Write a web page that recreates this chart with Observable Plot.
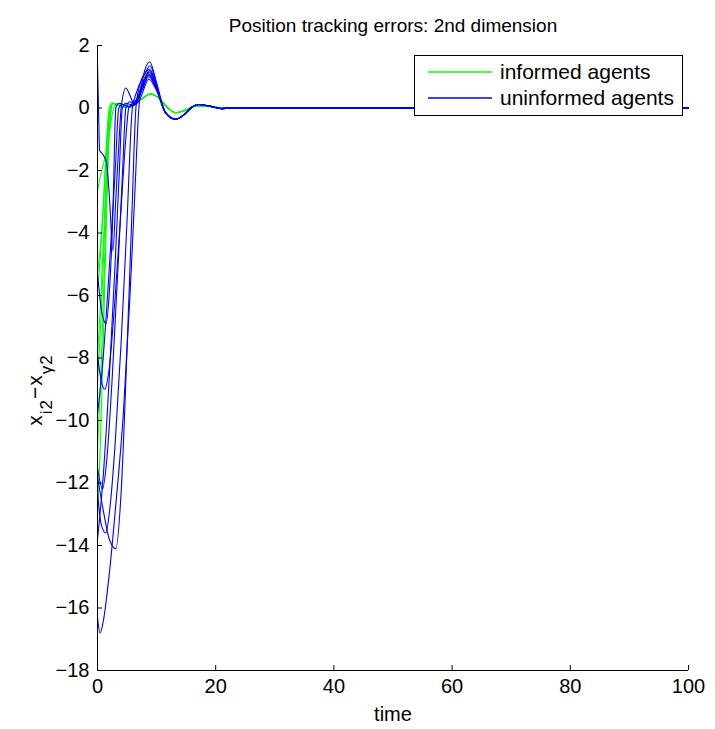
<!DOCTYPE html>
<html><head><meta charset="utf-8">
<script src="https://cdn.jsdelivr.net/npm/d3@7"></script>
<script src="https://cdn.jsdelivr.net/npm/@observablehq/plot@0.6"></script>
<style>
body{margin:0;background:#fff}
svg{font-family:"Liberation Sans",Arial,sans-serif}
</style>
</head><body><div id="chart"></div>
<script>
// ---- data ----
const title = "Position tracking errors: 2nd dimension";
const xLabel = "time";
const xTicks = [0, 20, 40, 60, 80, 100];
const yTicks = [2, 0, -2, -4, -6, -8, -10, -12, -14, -16, -18];
const legendLabels = ["informed agents", "uninformed agents"];

// shared late-time behaviour (t >= 10)
const blueTail = [[11.5,-0.15],[13.2,-0.36],[14.6,-0.22],[16,0.03],[17.1,0.11],[19,0.06],[21,-0.02],[24,0.01],[30,0],[100,0]];
const greenTail = [[4.2,0.05],[5.5,0.03],[7,0.22],[9,0.45],[10.5,0.3],[12,-0.02],[13.3,-0.15],[15,-0.06],[17,0.07],[19,0.05],[21,0],[25,0],[100,0]];

// uninformed agents (blue): early part of each trajectory
const blue1 = [[0,1.38],[0.15,0.2],[0.35,-1.35],[0.75,-1.45],[1.5,-1.71],[2.0,-2.8],[2.6,-4.57],[3.1,-2.9],[3.6,-1.2],[4.0,0.0],[4.8,0.64],[5.5,0.4],[6.3,0.1],[7.2,0.3],[8.7,0.92],[10,0.55]];
const blue2 = [[0,-5.3],[0.7,-6.5],[1.45,-6.9],[2.0,-5.9],[2.6,-3.4],[3.1,0],[3.6,0.15],[4.5,0.1],[5.5,0.05],[6.5,0.15],[7.5,0.55],[8.7,1.0],[10,0.6]];
const blue3 = [[0,-7.9],[0.6,-8.7],[1.2,-9.0],[2.0,-8.3],[3.0,-6.0],[4.0,-3.2],[4.7,-1.2],[5.3,0],[5.9,0.15],[6.7,0.3],[7.6,0.8],[8.8,1.15],[10,0.65]];
const blue4 = [[0,-11.5],[0.85,-12.2],[1.5,-11.4],[2.5,-8.6],[3.5,-5.0],[4.2,-2.2],[4.8,0],[5.4,0.2],[6.3,0.15],[7.3,0.5],[8.7,1.1],[10,0.62]];
const blue5 = [[0,-12.3],[0.6,-13.3],[1.4,-13.6],[2.1,-12.8],[3.0,-10.7],[4.0,-7.5],[5.0,-3.6],[5.9,0],[6.6,0.5],[7.6,0.95],[8.8,1.25],[10,0.7]];
const blue6 = [[0,-11.8],[1.0,-12.9],[2.0,-13.8],[3.1,-14.1],[4.0,-12.3],[5.0,-7.7],[5.8,-3.5],[6.5,0],[7.1,0.7],[8.0,1.1],[8.9,1.35],[10,0.75]];
const blue7 = [[0,-16.3],[0.44,-16.8],[1.0,-16.4],[2.0,-14.9],[3.0,-12.9],[4.4,-9.7],[5.5,-6.0],[6.3,-2.8],[7.0,0],[7.6,0.9],[8.85,1.47],[10,0.8]];
const blue8 = [[0,-13.8],[1.0,-11.7],[2.0,-8.6],[3.0,-4.9],[3.7,-2.0],[4.2,0],[4.8,0.15],[5.8,0.1],[6.8,0.3],[7.8,0.85],[8.8,1.2],[10,0.68]];
const blue9 = [[0,-9.8],[1.0,-7.9],[2.0,-5.1],[3.0,-2.0],[3.6,0],[4.2,0.12],[5.2,0.05],[6.3,0.15],[7.4,0.6],[8.7,1.05],[10,0.6]];

// informed agents (green): early part of each trajectory
const green1 = [[0,-2.65],[0.7,-2.0],[1.4,-1.5],[2.0,-0.85],[2.5,-0.2],[3.0,0.08],[3.6,0.1]];
const green2 = [[0,-5.3],[0.5,-4.4],[1.0,-3.1],[1.5,-1.4],[2.0,-0.2],[2.5,0.15],[3.2,0.12]];
const green3 = [[0,-5.84],[0.5,-4.7],[1.0,-3.1],[1.5,-1.2],[1.9,-0.1],[2.4,0.15],[3.1,0.12]];
const green4 = [[0,-7.98],[0.5,-6.3],[1.0,-4.3],[1.5,-2.0],[2.0,-0.3],[2.5,0.15],[3.2,0.12]];
const green5 = [[0,-8.8],[0.5,-7.1],[1.0,-4.9],[1.5,-2.3],[2.0,-0.4],[2.5,0.15],[3.2,0.12]];
const green6 = [[0,-10.9],[0.5,-8.9],[1.0,-6.1],[1.5,-3.0],[2.0,-0.6],[2.6,0.15],[3.3,0.12]];
const green7 = [[0,-13.1],[0.5,-10.7],[1.0,-7.3],[1.5,-3.6],[2.0,-0.8],[2.6,0.15],[3.3,0.12]];

const blueCurves = [blue1, blue2, blue3, blue4, blue5, blue6, blue7, blue8, blue9];
const greenCurves = [green1, green2, green3, green4, green5, green6, green7];

// ---- build tables ----
const blueRows = [], greenRows = [];
blueCurves.forEach((c, i) => [...c, ...blueTail].forEach(([t, y]) => blueRows.push({agent: "u" + i, t, y})));
greenCurves.forEach((c, i) => [...c, ...greenTail].forEach(([t, y]) => greenRows.push({agent: "i" + i, t, y})));

const FONT = "Liberation Sans, Arial, sans-serif";
const chart = Plot.plot({
  width: 715, height: 729,
  marginLeft: 97, marginRight: 27, marginTop: 45, marginBottom: 59,
  style: {fontFamily: FONT, fontSize: "20px", background: "#fff", color: "#000", overflow: "visible"},
  x: {domain: [0, 100]},
  y: {domain: [-18, 2]},
  marks: [
    Plot.line(greenRows, {x: "t", y: "y", z: "agent", stroke: "#00ff00", strokeWidth: 1.1, curve: "monotone-x"}),
    Plot.line(blueRows, {x: "t", y: "y", z: "agent", stroke: "#0000ff", strokeWidth: 1.1, curve: "monotone-x"}),
    Plot.ruleX([0], {stroke: "#000"}),
    Plot.ruleY([-18], {stroke: "#000"}),
    Plot.axisX({ticks: xTicks, tickSize: -5, tickPadding: 13, label: null, fontSize: 20, tickFormat: d => String(d)}),
    Plot.axisY({ticks: yTicks, tickSize: -5, tickPadding: 13, label: null, fontSize: 20}),
    Plot.text([title], {frameAnchor: "top", dy: -27, fontSize: 19, text: d => d}),
    Plot.text([xLabel], {frameAnchor: "bottom", dy: 50, fontSize: 20, text: d => d})
  ]
});

// y axis label with subscripts, and the legend box
const svg = d3.select(chart);
const yl = svg.append("text")
  .attr("transform", "translate(42,390) rotate(-90)")
  .attr("text-anchor", "middle")
  .attr("letter-spacing", 1)
  .attr("font-size", 21).attr("font-family", FONT).attr("fill", "#000");
yl.append("tspan").text("x");
yl.append("tspan").attr("baseline-shift", "sub").attr("font-size", 17).text("i2");
yl.append("tspan").text("\u2212x");
yl.append("tspan").attr("baseline-shift", "sub").attr("font-size", 17).text("\u03b32");

const lg = svg.append("g");
lg.append("rect").attr("x", 414.5).attr("y", 55.5).attr("width", 268).attr("height", 60)
  .attr("fill", "#fff").attr("stroke", "#000");
const legendColors = ["#00ff00", "#0000ff"];
legendLabels.forEach((lab, i) => {
  const y = 72 + i * 26;
  lg.append("line").attr("x1", 428).attr("x2", 492).attr("y1", y).attr("y2", y)
    .style("stroke", legendColors[i]).style("stroke-width", "1.5px");
  lg.append("text").attr("x", 500).attr("y", y).attr("dy", "0.35em")
    .attr("text-anchor", "start")
    .attr("font-size", 21).attr("font-family", FONT).attr("fill", "#000").text(lab);
});

document.getElementById("chart").appendChild(chart);
</script>
</body></html>
